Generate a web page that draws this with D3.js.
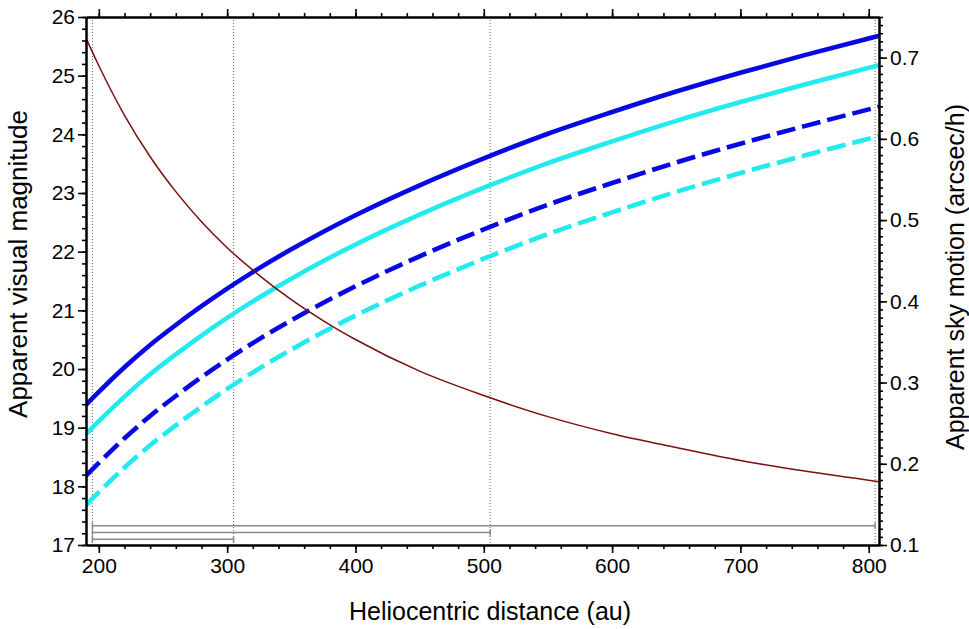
<!DOCTYPE html>
<html><head><meta charset="utf-8">
<script src="https://cdn.jsdelivr.net/npm/d3@7"></script>
<style>
body{margin:0;background:#fff}
svg{display:block}
text{font-family:"Liberation Sans",Arial,sans-serif;fill:#000}
</style>
</head><body>
<svg id="c" width="969" height="629"></svg>
<script>
// ---- data ----
const distances   = [190,200,220,240,260,280,300,325,350,375,400,450,500,550,600,650,700,750,808];
const magBlueSolid= [19.39,19.61,20.03,20.41,20.75,21.07,21.37,21.72,22.04,22.34,22.62,23.13,23.59,24.01,24.38,24.73,25.05,25.35,25.68];
const magCyanSolid= [18.89,19.11,19.53,19.91,20.25,20.57,20.87,21.22,21.54,21.84,22.12,22.63,23.09,23.51,23.88,24.23,24.55,24.85,25.18];
const magBlueDash = [18.18,18.40,18.82,19.20,19.54,19.86,20.16,20.51,20.83,21.13,21.41,21.92,22.38,22.80,23.17,23.52,23.84,24.14,24.47];
const magCyanDash = [17.68,17.90,18.32,18.70,19.04,19.36,19.66,20.01,20.33,20.63,20.91,21.42,21.88,22.30,22.67,23.02,23.34,23.64,23.97];
const skyMotion   = [0.724,0.690,0.629,0.578,0.535,0.498,0.466,0.432,0.402,0.376,0.353,0.314,0.284,0.258,0.237,0.220,0.204,0.191,0.178];
const markerDistances = [195,305,505,805];
const rangeBars = [[195,805],[195,505],[195,305]];
const xTicks = [200,300,400,500,600,700,800];
const yLeftTicks = [17,18,19,20,21,22,23,24,25,26];
const yRightTicks = [0.1,0.2,0.3,0.4,0.5,0.6,0.7];
const xLabel = "Heliocentric distance (au)";
const yLeftLabel = "Apparent visual magnitude";
const yRightLabel = "Apparent sky motion (arcsec/h)";

// ---- layout ----
const L = 86, R = 879, T = 17, B = 545;
const svg = d3.select("#c");
const x = d3.scaleLinear().domain([190, 808]).range([L, R]);
const yL = d3.scaleLinear().domain([17, 26]).range([B, T]);
const yR = d3.scaleLinear().domain([0.1, 0.75]).range([B, T]);

svg.append("defs").append("clipPath").attr("id","clip")
  .append("rect").attr("x",L).attr("y",T).attr("width",R-L).attr("height",B-T);

// vertical dotted markers
svg.append("g").selectAll("line").data(markerDistances).join("line")
  .attr("x1",d=>x(d)).attr("x2",d=>x(d)).attr("y1",T).attr("y2",B)
  .attr("stroke","#666").attr("stroke-width",1).attr("stroke-dasharray","1,2");

// range bars
const barG = svg.append("g").attr("stroke","#8a8a8a").attr("stroke-width",1.5).attr("fill","none");
rangeBars.forEach((r,i)=>{
  const yy = B - 19.3 + i*6.8;
  barG.append("line").attr("x1",x(r[0])).attr("x2",x(r[1])).attr("y1",yy).attr("y2",yy);
  barG.append("line").attr("x1",x(r[0])).attr("x2",x(r[0])).attr("y1",yy-3.3).attr("y2",yy+3.3);
  barG.append("line").attr("x1",x(r[1])).attr("x2",x(r[1])).attr("y1",yy-3.3).attr("y2",yy+3.3);
});

// curves
const plot = svg.append("g").attr("clip-path","url(#clip)");
const lineL = d3.line().x((d,i)=>x(distances[i])).y(d=>yL(d)).curve(d3.curveMonotoneX);
const lineR = d3.line().x((d,i)=>x(distances[i])).y(d=>yR(d)).curve(d3.curveMonotoneX);
const series = [
  {v:magCyanDash, c:"#22ebf0", dash:"19,7"},
  {v:magBlueDash, c:"#0808e2", dash:"19,7"},
  {v:magCyanSolid, c:"#22ebf0", dash:null},
  {v:magBlueSolid, c:"#0808e2", dash:null}
];
series.forEach(s=>{
  plot.append("path").attr("d",lineL(s.v)).attr("fill","none")
    .attr("stroke",s.c).attr("stroke-width",4.6)
    .attr("stroke-dasharray",s.dash);
});
plot.append("path").attr("d",lineR(skyMotion)).attr("fill","none")
  .attr("stroke","#7a1010").attr("stroke-width",1.5);

// axes
function styleAxis(g){
  g.select(".domain").attr("stroke","#000").attr("stroke-width",2);
  g.selectAll(".tick line").attr("stroke","#000").attr("stroke-width",1.6);
  g.selectAll(".tick text").style("font-size","21px").attr("fill","#000");
}
const minorX = d3.range(200, 801, 20);
const minorYL = d3.range(17, 26.001, 0.2);
const minorYR = d3.range(0.1, 0.7501, 0.01);

// bottom
svg.append("g").attr("transform",`translate(0,${B})`)
  .call(d3.axisBottom(x).tickValues(minorX).tickSize(4).tickFormat("").tickSizeOuter(0)).call(styleAxis);
svg.append("g").attr("transform",`translate(0,${B})`)
  .call(d3.axisBottom(x).tickValues(xTicks).tickSize(8).tickPadding(5).tickFormat(d3.format("d")).tickSizeOuter(0)).call(styleAxis);
// top
svg.append("g").attr("transform",`translate(0,${T})`)
  .call(d3.axisTop(x).tickValues(minorX).tickSize(4).tickFormat("").tickSizeOuter(0)).call(styleAxis);
svg.append("g").attr("transform",`translate(0,${T})`)
  .call(d3.axisTop(x).tickValues(xTicks).tickSize(8).tickFormat("").tickSizeOuter(0)).call(styleAxis);
// left
svg.append("g").attr("transform",`translate(${L},0)`)
  .call(d3.axisLeft(yL).tickValues(minorYL).tickSize(4).tickFormat("").tickSizeOuter(0)).call(styleAxis);
svg.append("g").attr("transform",`translate(${L},0)`)
  .call(d3.axisLeft(yL).tickValues(yLeftTicks).tickSize(8).tickPadding(3).tickFormat(d3.format("d")).tickSizeOuter(0)).call(styleAxis);
// right
svg.append("g").attr("transform",`translate(${R},0)`)
  .call(d3.axisRight(yR).tickValues(minorYR).tickSize(4).tickFormat("").tickSizeOuter(0)).call(styleAxis);
svg.append("g").attr("transform",`translate(${R},0)`)
  .call(d3.axisRight(yR).tickValues(yRightTicks).tickSize(8).tickPadding(3).tickFormat(d3.format(".1f")).tickSizeOuter(0)).call(styleAxis);

// titles
svg.append("text").attr("x",490).attr("y",620).attr("text-anchor","middle")
  .style("font-size","25px").text(xLabel);
svg.append("text").attr("transform",`translate(27,264) rotate(-90)`).attr("text-anchor","middle")
  .style("font-size","26px").text(yLeftLabel);
svg.append("text").attr("transform",`translate(964,277) rotate(-90)`).attr("text-anchor","middle")
  .style("font-size","25px").text(yRightLabel);
</script>
</body></html>
